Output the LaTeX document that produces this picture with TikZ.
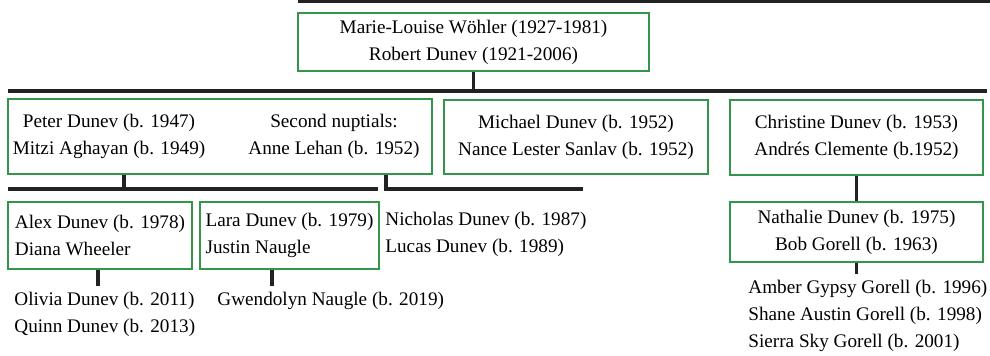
\documentclass[tikz,border=0pt]{standalone}
\usepackage{fontspec}
\setmainfont{Liberation Serif}
\usepackage{tikz}

\definecolor{boxgreen}{RGB}{52,150,72}
\definecolor{bardark}{RGB}{34,34,34}

\begin{document}
\begin{tikzpicture}[x=0.5pt,y=-0.5pt,
        font=\fontsize{9.6}{13.5}\selectfont,
        box/.style={draw=boxgreen,line width=1pt,inner sep=0pt,align=center},
        names/.style={inner sep=0pt,align=left,anchor=west},
        bar/.style={draw=bardark,line width=2pt},
        link/.style={draw=bardark,line width=1.8pt}]
            \useasboundingbox (0,0) rectangle (990,356);
            % generations
            \node[box,minimum width=175.5pt,minimum height=29pt] (grand)
                at (473.5,42) {Marie-Louise Wöhler (1927-1981)\\Robert Dunev (1921-2006)};
            \node[box,minimum width=212pt,minimum height=37.5pt] (peter)
                at (220,136.5) {};
            \node[inner sep=0pt,align=center] (peterfirst)
                at (109,136.5) {Peter Dunev (b. 1947)\\Mitzi Aghayan (b. 1949)};
            \node[inner sep=0pt,align=center] (petersecond)
                at (334,136.5) {Second nuptials:\\Anne Lehan (b. 1952)};
            \node[box,minimum width=132pt,minimum height=37pt] (michael)
                at (576,137) {Michael Dunev (b. 1952)\\Nance Lester Sanlav (b. 1952)};
            \node[box,minimum width=126.5pt,minimum height=37.5pt] (christine)
                at (856.5,137.5) {Christine Dunev (b. 1953)\\Andrés Clemente (b.1952)};
            \node[box,align=left,minimum width=92pt,minimum height=33.5pt] (alex)
                at (100,235.5) {Alex Dunev (b. 1978)\\Diana Wheeler};
            \node[box,align=left,minimum width=89.5pt,minimum height=33.5pt] (lara)
                at (289.5,235.5) {Lara Dunev (b. 1979)\\Justin Naugle};
            \node[names] (nicholas)
                at (385,234) {Nicholas Dunev (b. 1987)\\Lucas Dunev (b. 1989)};
            \node[box,minimum width=126.5pt,minimum height=30pt] (nathalie)
                at (856.5,232) {Nathalie Dunev (b. 1975)\\Bob Gorell (b. 1963)};
            \node[names] (olivia)
                at (14,314) {Olivia Dunev (b. 2011)\\Quinn Dunev (b. 2013)};
            \node[names] (gwendolyn)
                at (217,301) {Gwendolyn Naugle (b. 2019)};
            \node[names] (amber)
                at (748,316) {Amber Gypsy Gorell (b. 1996)\\Shane Austin Gorell (b. 1998)\\Sierra Sky Gorell (b. 2001)};
            % bars
            \coordinate (topL) at (298,1);
            \coordinate (topR) at (990,1);
            \coordinate (kidsL) at (8,91.5);
            \coordinate (kidsR) at (987,91.5);
            \coordinate (grandL) at (8,189);
            \coordinate (grandM) at (378,189);
            \coordinate (secondR) at (583,189);
            \coordinate (peterdrop) at (124,189);
            \coordinate (seconddrop) at (386,189);
            \draw[bar] (topL) -- (topR);
            \draw[bar] (kidsL) -- (kidsR);
            \draw[bar] (grandL) -- (grandM);
            \draw[link] (grand.south) -- (grand.south |- kidsL);
            \draw[link] (peterdrop |- peter.south) -- (peterdrop);
            \draw[bar] (seconddrop |- peter.south) -- (seconddrop) -- (secondR);
            \draw[link] (christine.south) -- (nathalie.north);
            \draw[link] ([xshift=-1pt]alex.south) -- ++(0,16);
            \draw[link] ([xshift=-8.75pt]lara.south) -- ++(0,16);
            \draw[link] (nathalie.south) -- ++(0,11);
        \end{tikzpicture}
\end{document}
